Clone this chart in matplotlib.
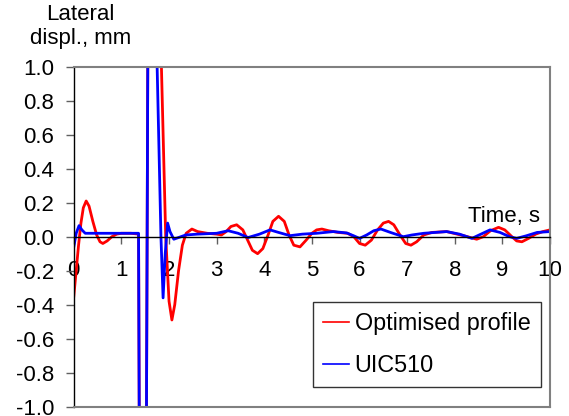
import matplotlib
matplotlib.use("Agg")
import matplotlib.pyplot as plt

plt.rcParams['font.family'] = ['Liberation Sans', 'DejaVu Sans']

# Lateral displacement vs time, read at the turning points of each trace
t_opt = [0.00, 0.05, 0.10, 0.15, 0.20, 0.26, 0.32, 0.40, 0.48, 0.55,
         0.61, 0.70, 0.80, 0.90, 1.00, 1.20, 1.36, 1.38, 1.52, 1.56,
         1.79, 1.84, 1.93, 2.00, 2.06, 2.12, 2.20, 2.28, 2.36, 2.48,
         2.60, 2.80, 3.00, 3.10, 3.20, 3.30, 3.42, 3.55, 3.65, 3.75,
         3.86, 3.97, 4.08, 4.18, 4.30, 4.42, 4.52, 4.62, 4.75, 4.88,
         5.00, 5.10, 5.21, 5.35, 5.55, 5.75, 5.88, 6.00, 6.12, 6.25,
         6.38, 6.50, 6.61, 6.72, 6.85, 6.97, 7.08, 7.20, 7.35, 7.52,
         7.83, 8.05, 8.20, 8.46, 8.60, 8.75, 8.92, 9.05, 9.20, 9.30,
         9.41, 9.55, 9.70, 9.85, 10.00]
y_opt = [-0.35, -0.20, -0.05, 0.08, 0.17, 0.21, 0.18, 0.09, 0.01, -0.03,
         -0.04, -0.025, 0.00, 0.015, 0.02, 0.02, 0.015, -1.5, -1.5, 1.5,
         1.5, 1.0, 0.0, -0.38, -0.49, -0.40, -0.20, -0.05, 0.02, 0.045,
         0.03, 0.02, 0.015, 0.01, 0.03, 0.06, 0.07, 0.04, -0.02, -0.08,
         -0.10, -0.07, 0.01, 0.09, 0.12, 0.09, 0.01, -0.05, -0.06, -0.02,
         0.02, 0.04, 0.045, 0.035, 0.025, 0.02, 0.0, -0.04, -0.05, -0.02,
         0.04, 0.08, 0.09, 0.07, 0.01, -0.04, -0.05, -0.03, 0.01, 0.025,
         0.03, 0.015, 0.005, -0.015, 0.00, 0.035, 0.055, 0.04, 0.0, -0.025,
         -0.03, -0.01, 0.015, 0.03, 0.04]

t_uic = [0.00, 0.05, 0.11, 0.17, 0.24, 0.40, 1.00, 1.36, 1.38, 1.52,
         1.56, 1.72, 1.75, 1.83, 1.875, 1.92, 1.97, 2.02, 2.10, 2.20,
         2.35, 2.60, 3.00, 3.24, 3.45, 3.66, 3.90, 4.12, 4.30, 4.54,
         4.80, 5.10, 5.45, 5.73, 5.88, 6.00, 6.15, 6.30, 6.45, 6.65,
         6.92, 7.10, 7.35, 7.83, 8.10, 8.36, 8.55, 8.74, 8.95, 9.15,
         9.30, 9.50, 9.73, 10.00]
y_uic = [-0.06, 0.02, 0.065, 0.04, 0.02, 0.02, 0.02, 0.02, -1.5, -1.5,
         1.5, 1.5, 1.0, 0.0, -0.36, -0.10, 0.08, 0.03, -0.015, -0.005,
         0.01, 0.015, 0.02, 0.035, 0.02, -0.005, 0.015, 0.04, 0.025, 0.006,
         0.015, 0.02, 0.03, 0.022, 0.005, -0.01, 0.01, 0.035, 0.045, 0.025,
         0.0, 0.01, 0.02, 0.03, 0.015, -0.01, 0.015, 0.04, 0.025, 0.0,
         -0.01, 0.005, 0.025, 0.03]

x_ticks = list(range(0, 11))
y_ticks = [-1.0, -0.8, -0.6, -0.4, -0.2, 0.0, 0.2, 0.4, 0.6, 0.8, 1.0]

FS = 16

fig = plt.figure(figsize=(5.69, 4.16), dpi=100)
ax = fig.add_axes([0.1297, 0.0224, 0.8369, 0.8173])

ax.plot(t_opt, y_opt, color='#ff0000', lw=2, label='Optimised profile')
ax.plot(t_uic, y_uic, color='#0000ff', lw=2, label='UIC510')

ax.set_xlim(0, 10)
ax.set_ylim(-1, 1)

# x axis runs through zero, frame drawn in grey
ax.spines['bottom'].set_position(('data', 0))
ax.spines['bottom'].set_color('black')
ax.spines['bottom'].set_linewidth(1)
ax.spines['left'].set_color('black')
ax.spines['left'].set_linewidth(1)
for s in ['top', 'right']:
    ax.spines[s].set_color('#808080')
    ax.spines[s].set_linewidth(1.5)
ax.axhline(-1, color='#808080', lw=1.5, clip_on=False, zorder=3)

ax.set_xticks(x_ticks)
ax.set_yticks(y_ticks)
ax.set_yticklabels([f"{v:.1f}" for v in y_ticks])
ax.tick_params(axis='x', direction='out', length=5, width=1, color='#606060',
               pad=12, labelsize=FS)
ax.tick_params(axis='y', direction='out', length=6, width=1, color='#606060',
               pad=8, labelsize=FS)

ax.text(9.78, 0.088, 'Time, s', ha='right', va='baseline', fontsize=FS)
fig.text(0.142, 0.99, 'Lateral\ndispl., mm', ha='center', va='top',
         fontsize=FS, linespacing=1.15)

leg = ax.legend(loc='lower right', bbox_to_anchor=(0.981, 0.057),
                borderaxespad=0, frameon=True, fancybox=False, fontsize=16.8,
                handlelength=1.1, handletextpad=0.25, labelspacing=0.8,
                borderpad=0.45)
leg.get_frame().set_edgecolor('black')
leg.get_frame().set_linewidth(1)
for line in leg.get_lines():
    line.set_linewidth(1.2)

fig.savefig('out.png', dpi=100)
